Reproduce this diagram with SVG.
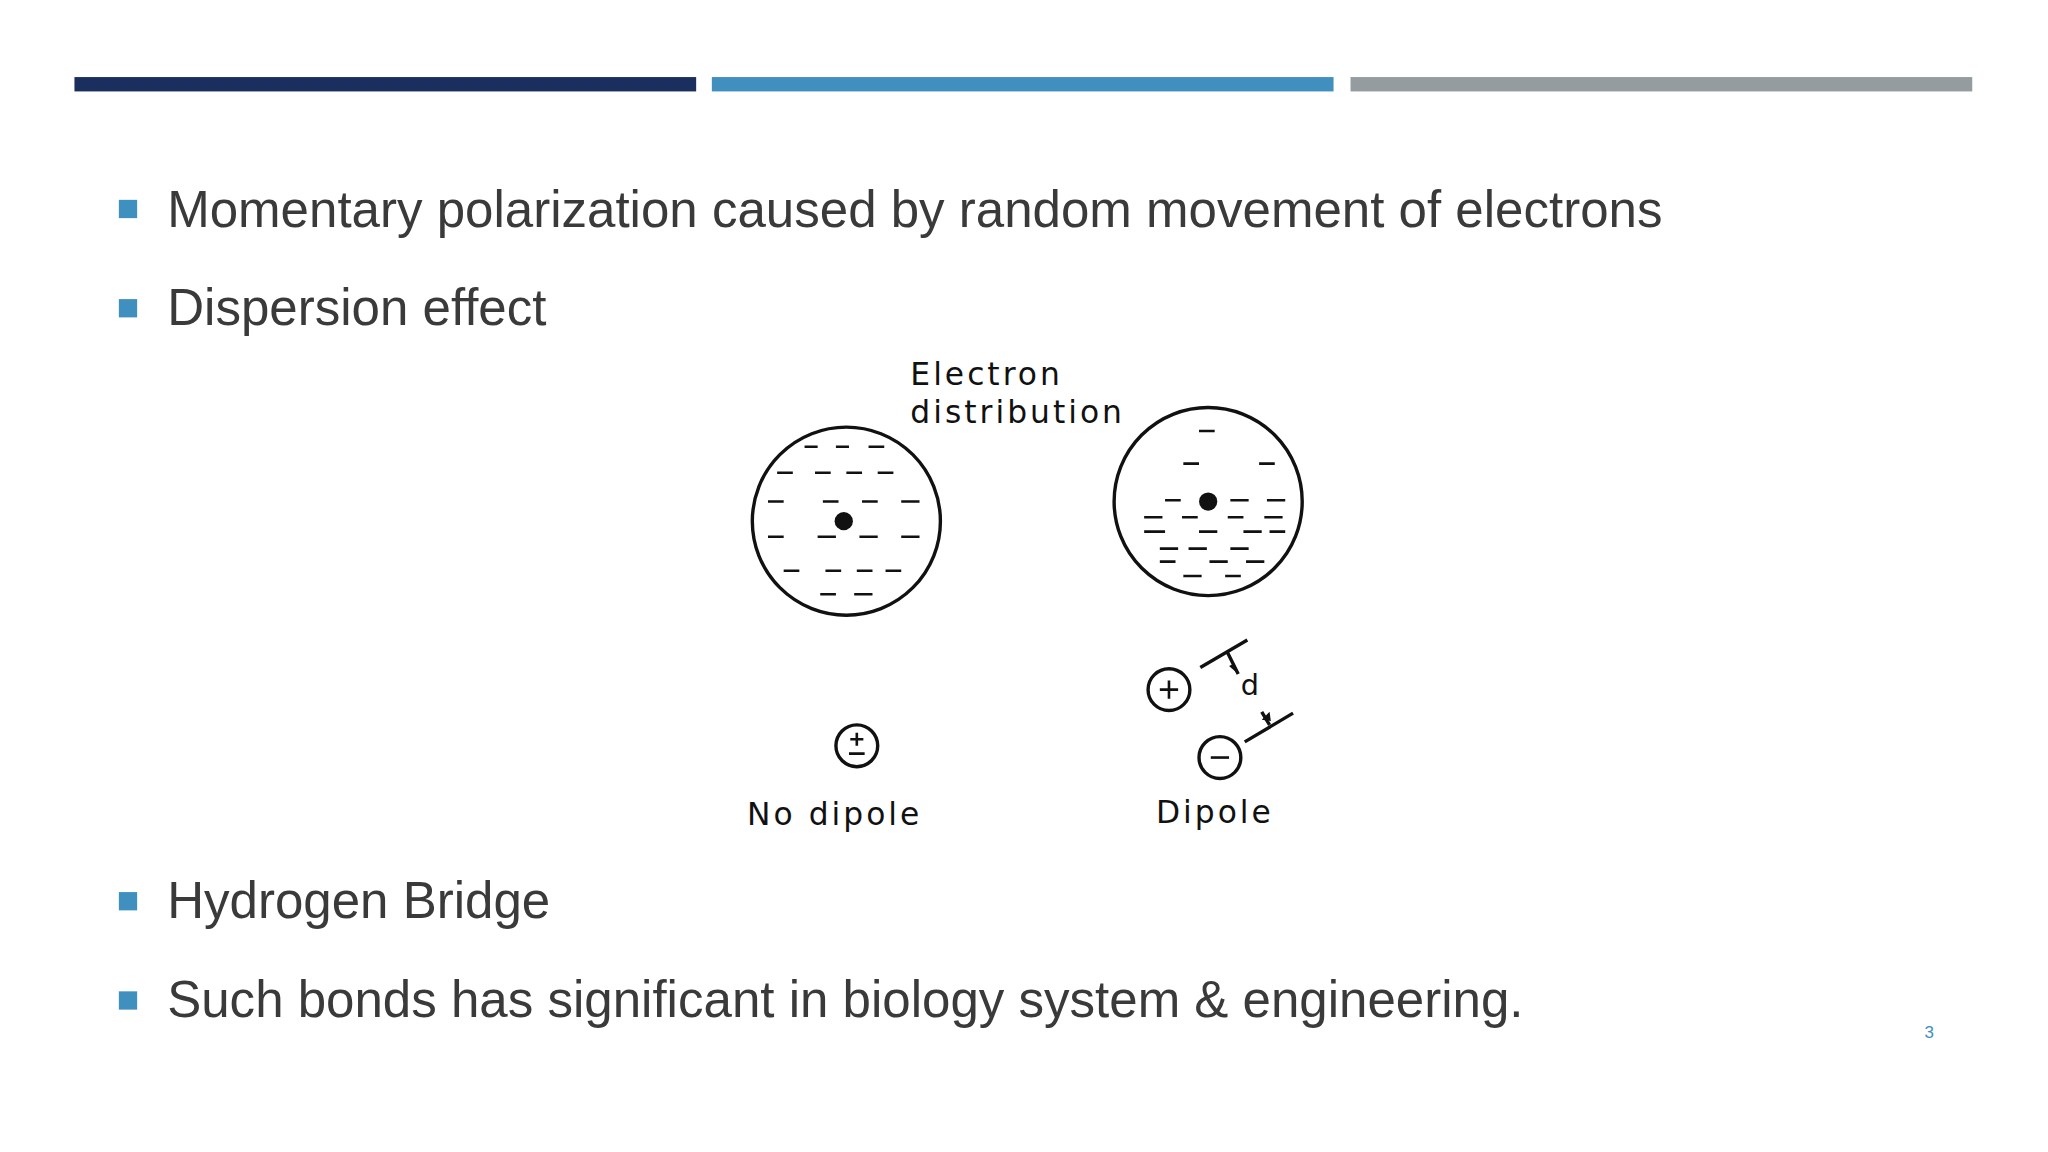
<svg xmlns="http://www.w3.org/2000/svg" width="2048" height="1152" viewBox="0 0 2048 1152">
<style>
.b{font-family:"Liberation Sans",Arial,sans-serif;font-size:39.1px;fill:#3a3a3a}
.h{font-family:"DejaVu Sans",sans-serif;font-size:24px;fill:#111;letter-spacing:2.3px}
.k{stroke:#111;stroke-width:2.6;fill:none}
.d{stroke:#111;stroke-width:2}
.sq{fill:#3f8fbf}
</style>
<rect width="2048" height="1152" fill="#fff"/>
<g transform="scale(1.30612)">
<rect x="57" y="59" width="476" height="11" fill="#1b2f5e"/>
<rect x="545" y="59" width="476" height="11" fill="#418fbe"/>
<rect x="1034" y="59" width="476" height="11" fill="#949ca0"/>
<g id="bullets">
<rect class="sq" x="91" y="153" width="14" height="14"/><text class="b" x="128" y="174">Momentary polarization caused by random movement of electrons</text>
<rect class="sq" x="91" y="229" width="14" height="14"/><text class="b" x="128" y="249">Dispersion effect</text>
<rect class="sq" x="91" y="683" width="14" height="14"/><text class="b" x="128" y="703">Hydrogen Bridge</text>
<rect class="sq" x="91" y="759" width="14" height="14"/><text class="b" x="128" y="779">Such bonds has significant in biology system &amp; engineering.</text>
</g>
<text x="1477" y="795" font-family="Liberation Sans,sans-serif" font-size="13" fill="#418fbe" text-anchor="middle">3</text>
<g id="atom-left">
<circle class="k" cx="648" cy="399" r="72"/><circle cx="646" cy="399" r="7" fill="#111"/>
<path class="d" d="M616 342h10M640 342h10M665 342h12M595 362h12M624 362h12M648 362h12M672 362h12M588 384h12M630 384h12M660 384h12M690 384h14M588 411h12M626 411h14M658 411h14M690 411h14M600 437h12M632 437h12M656 437h12M678 437h12M628 455h12M654 455h14"/>
</g>
<g id="atom-right">
<circle class="k" cx="925" cy="384" r="72"/><circle cx="925" cy="384" r="7" fill="#111"/>
<path class="d" d="M918 330h12M906 355h12M964 355h12M892 383h12M942 383h14M970 383h14M876 396h14M905 396h12M940 396h12M968 396h14M876 407h16M918 407h14M952 407h14M972 407h12M888 420h14M910 420h14M942 420h14M888 430h12M926 430h14M954 430h14M906 441h14M938 441h12"/>
</g>
<g id="labels">
<text class="h" x="697" y="295">Electron</text>
<text class="h" x="697" y="324">distribution</text>
<text class="h" x="572" y="632">No dipole</text>
<text class="h" x="885" y="630">Dipole</text>
</g>
<g id="charges">
<circle class="k" cx="656" cy="571" r="16"/><path class="d" d="M651 566h10M656 561v10M650 577h12"/>
<circle class="k" cx="895" cy="528" r="16"/><path class="d" d="M888 528h14M895 521v14"/>
<circle class="k" cx="934" cy="580" r="16"/><path class="d" d="M927 580h14"/>
</g>
<g id="connectors">
<path class="k" d="M919 511L955 490M953 568L990 546M940 500L948 516M966 545L972 555"/>
<path d="M948 516l-7-6 4-2z M972 545l-6 6 7 1z" fill="#111"/>
<text x="950" y="532" font-family="DejaVu Sans,sans-serif" font-size="22" fill="#111">d</text>
</g>
</g>
</svg>
